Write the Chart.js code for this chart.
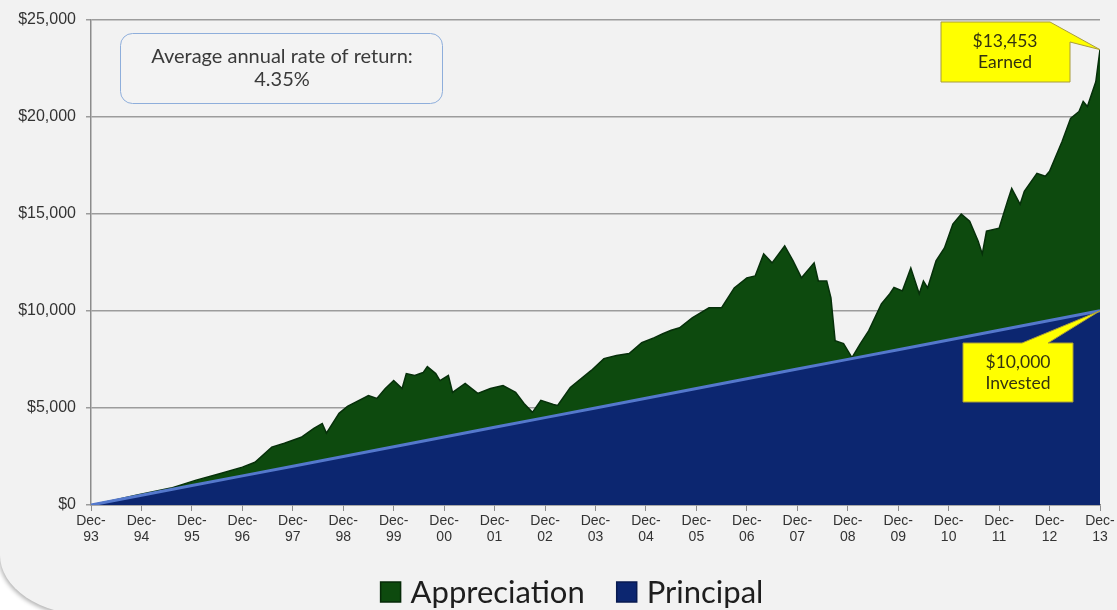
<!DOCTYPE html>
<html>
<head>
<meta charset="utf-8">
<script src="https://cdn.jsdelivr.net/npm/chart.js@4/dist/chart.umd.min.js"></script>
<style>
  html, body { margin: 0; padding: 0; background: #ffffff; overflow: hidden; }
  #panel {
    position: absolute; left: 0; top: -20px; width: 1160px; height: 635px;
    background: #f2f2f2;
    border-bottom-left-radius: 90px 60px;
    box-shadow: -1px 2px 4px rgba(0,0,0,0.3);
  }
  #wrap { position: absolute; left: 0; top: 0; width: 1117px; height: 610px; }
</style>
</head>
<body>
<div id="panel"></div>
<div id="wrap"><canvas id="growth" width="1117" height="610"></canvas></div>
<script>
// x axis labels, one per December
const tickLabels = ['Dec-93', 'Dec-94', 'Dec-95', 'Dec-96', 'Dec-97', 'Dec-98', 'Dec-99',
    'Dec-00', 'Dec-01', 'Dec-02', 'Dec-03', 'Dec-04', 'Dec-05', 'Dec-06', 'Dec-07',
    'Dec-08', 'Dec-09', 'Dec-10', 'Dec-11', 'Dec-12', 'Dec-13']

// account value (principal + appreciation), months after Dec-93
const valueMonths = [0, 6, 11, 19, 25, 31, 36, 39, 43, 46, 50, 53, 55, 56, 59, 61, 66, 68, 70,
    72, 74, 75, 77, 79, 80, 82, 83, 85, 86, 89, 92, 95, 98, 101, 103, 105, 107, 110, 111,
    114, 119, 122, 125, 128, 131, 134, 136, 138, 140, 143, 147, 150, 153, 156, 158, 160,
    162, 165, 167, 169, 172, 173, 175, 176, 177, 179, 181, 183, 185, 188, 190, 191, 193,
    195, 197, 198, 199, 201, 203, 205, 207, 209, 211, 212, 213, 216, 218, 219, 221, 222,
    225, 227, 228, 231, 233, 235, 236, 237, 239, 240]
const valueTotals = [0, 270, 520, 870, 1280, 1640, 1950, 2200, 2980, 3180, 3490, 3950, 4200,
    3700, 4720, 5080, 5640, 5490, 6000, 6410, 6000, 6770, 6670, 6820, 7130, 6770, 6410,
    6670, 5800, 6260, 5750, 6000, 6150, 5800, 5230, 4770, 5390, 5180, 5130, 6050, 6930,
    7540, 7700, 7800, 8360, 8620, 8820, 9000, 9130, 9640, 10160, 10160, 11180, 11700,
    11800, 12930, 12470, 13340, 12570, 11700, 12470, 11540, 11540, 10670, 8460, 8310,
    7590, 8310, 8980, 10360, 10880, 11200, 11030, 12210, 10880, 11540, 11180, 12570,
    13240, 14470, 14980, 14620, 13600, 12930, 14110, 14260, 15650, 16310, 15490, 16160,
    17080, 16930, 17190, 18730, 19910, 20260, 20780, 20520, 21800, 23453]

// money put in, one value per December
const principalMonths = [0, 12, 24, 36, 48, 60, 72, 84, 96, 108, 120, 132, 144, 156, 168,
    180, 192, 204, 216, 228, 240]
const principalValues = [0, 500, 1000, 1500, 2000, 2500, 3000, 3500, 4000, 4500, 5000,
    5500, 6000, 6500, 7000, 7500, 8000, 8500, 9000, 9500, 10000]

const rateText = ['Average annual rate of return:', '4.35%']
const earnedText = ['$13,453', 'Earned']
const investedText = ['$10,000', 'Invested']

const labelFont = 'Lato, "Open Sans", sans-serif'
const tickFont = '"Liberation Sans", Arial, sans-serif'

const roundRect = function (ctx, x, y, w, h, r) {
    ctx.beginPath()
    ctx.moveTo(x + r, y)
    ctx.arcTo(x + w, y, x + w, y + h, r)
    ctx.arcTo(x + w, y + h, x, y + h, r)
    ctx.arcTo(x, y + h, x, y, r)
    ctx.arcTo(x, y, x + w, y, r)
    ctx.closePath()
}

const drawLines = function (ctx, lines, cx, cy, gap) {
    lines.forEach((line, i) => {
        ctx.fillText(line, cx, cy + i * gap)
    })
}

// callout shapes: a box plus a pointer going to a point on the chart
const calloutPlugin = {
    id: 'callouts',
    afterDatasetsDraw(chart) {
        const ctx = chart.ctx
        const xs = chart.scales.x, ys = chart.scales.y
        ctx.save()

        // rate of return box
        roundRect(ctx, 120.5, 33.5, 322, 70, 12)
        ctx.fillStyle = '#f3f3f3'
        ctx.fill()
        ctx.strokeStyle = '#8eaedb'
        ctx.lineWidth = 1
        ctx.stroke()
        ctx.fillStyle = '#3a3a3a'
        ctx.font = '20px ' + labelFont
        ctx.textAlign = 'center'
        ctx.textBaseline = 'middle'
        drawLines(ctx, rateText, 282, 57, 23)

        // earned callout, tip at the last account value
        const tipX = xs.getPixelForValue(valueMonths[valueMonths.length - 1])
        const tipY = ys.getPixelForValue(valueTotals[valueTotals.length - 1])
        ctx.beginPath()
        ctx.moveTo(941, 22)
        ctx.lineTo(1050, 22)
        ctx.lineTo(tipX, tipY)
        ctx.lineTo(1070, 42)
        ctx.lineTo(1070, 82)
        ctx.lineTo(941, 82)
        ctx.closePath()
        ctx.fillStyle = '#ffff00'
        ctx.fill()
        ctx.strokeStyle = '#a89c3a'
        ctx.stroke()
        ctx.fillStyle = '#333310'
        ctx.font = '17.5px ' + labelFont
        drawLines(ctx, earnedText, 1005, 41, 21)

        // invested callout, tip at the last principal value
        const tip2X = xs.getPixelForValue(principalMonths[principalMonths.length - 1])
        const tip2Y = ys.getPixelForValue(principalValues[principalValues.length - 1])
        ctx.beginPath()
        ctx.moveTo(963, 343)
        ctx.lineTo(1022, 343)
        ctx.lineTo(tip2X, tip2Y)
        ctx.lineTo(1048, 343)
        ctx.lineTo(1073, 343)
        ctx.lineTo(1073, 402)
        ctx.lineTo(963, 402)
        ctx.closePath()
        ctx.fillStyle = '#ffff00'
        ctx.fill()
        ctx.strokeStyle = '#a89c3a'
        ctx.stroke()
        ctx.fillStyle = '#333310'
        drawLines(ctx, investedText, 1018, 362, 21)

        ctx.restore()
    }
}

// legend under the axis, centred a bit right of the canvas middle like the original
const legendPlugin = {
    id: 'bottomLegend',
    afterDraw(chart) {
        const ctx = chart.ctx
        const boxSize = 20, textGap = 10, itemGap = 32
        const cy = 592
        ctx.save()
        ctx.font = '31px ' + labelFont
        ctx.textBaseline = 'middle'
        ctx.textAlign = 'left'
        const sets = chart.data.datasets
        const widths = sets.map(ds => boxSize + textGap + ctx.measureText(ds.label).width)
        const total = widths.reduce((a, b) => a + b, 0) + itemGap * (sets.length - 1)
        let x = 572 - total / 2
        sets.forEach((ds, i) => {
            ctx.fillStyle = ds.backgroundColor
            ctx.fillRect(x, cy - boxSize / 2, boxSize, boxSize)
            ctx.strokeStyle = i === 0 ? '#062a08' : '#081a50'
            ctx.lineWidth = 1.5
            ctx.strokeRect(x, cy - boxSize / 2, boxSize, boxSize)
            ctx.fillStyle = '#1e1e1e'
            ctx.fillText(ds.label, x + boxSize + textGap, cy + 1)
            x += widths[i] + itemGap
        })
        ctx.restore()
    }
}

const data = {
    datasets: [{
        label: 'Appreciation',
        data: valueMonths.map((m, i) => ({ x: m, y: valueTotals[i] })),
        backgroundColor: '#0d4a0e',
        borderColor: '#06300a',
        borderWidth: 1.5,
        fill: 'origin',
        pointRadius: 0,
        tension: 0,
        order: 1
    }, {
        label: 'Principal',
        data: principalMonths.map((m, i) => ({ x: m, y: principalValues[i] })),
        backgroundColor: '#0c2670',
        borderColor: '#5478cc',
        borderWidth: 3,
        fill: 'origin',
        pointRadius: 0,
        tension: 0,
        order: 0
    }]
}

const config = {
    type: 'line',
    data: data,
    options: {
        responsive: false,
        animation: false,
        layout: { padding: { left: 0, right: 17, top: 18, bottom: 63 } },
        plugins: {
            tooltip: { enabled: false },
            legend: { display: false }
        },
        scales: {
            x: {
                type: 'linear',
                min: 0,
                max: 240,
                afterFit: (scale) => { scale.height = 42 },
                border: { color: '#8c8c8c', width: 1.5 },
                grid: { drawOnChartArea: false, tickLength: 6, color: '#8c8c8c' },
                ticks: {
                    stepSize: 12,
                    autoSkip: false,
                    maxRotation: 0,
                    padding: 2,
                    color: '#333',
                    font: { family: tickFont, size: 14, lineHeight: 1.15 },
                    callback: (value) => {
                        const label = tickLabels[Math.round(value / 12)]
                        return label ? [label.slice(0, 4), label.slice(4)] : ''
                    }
                }
            },
            y: {
                min: 0,
                max: 25000,
                afterFit: (scale) => { scale.width = 91 },
                border: { color: '#8c8c8c', width: 1.5 },
                grid: { color: '#9c9c9c', lineWidth: 1.5, tickLength: 5 },
                ticks: {
                    stepSize: 5000,
                    padding: 10,
                    color: '#333',
                    font: { family: tickFont, size: 16 },
                    callback: (value) => '$' + value.toLocaleString('en-US')
                }
            }
        }
    },
    plugins: [calloutPlugin, legendPlugin]
}

var growthChart = new Chart(document.getElementById('growth'), config)
</script>
</body>
</html>
